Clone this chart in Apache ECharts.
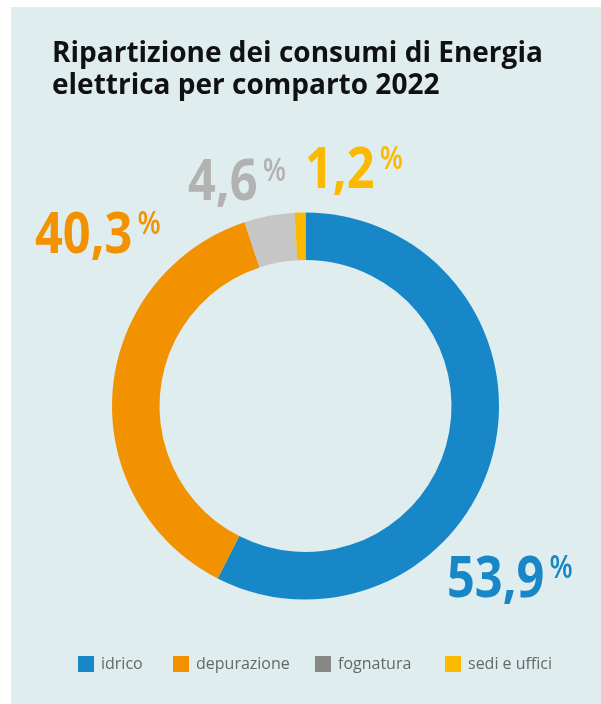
<!DOCTYPE html>
<html><head><meta charset="utf-8">
<style>html,body{margin:0;padding:0;background:#fff}#c{width:601px;height:704px}</style>
<script src="https://cdn.jsdelivr.net/npm/echarts@6/dist/echarts.min.js"></script>
</head><body><div id="c"></div>
<script>
const titleLines = ['Ripartizione dei consumi di Energia', 'elettrica per comparto 2022'];
const categories = ['idrico', 'depurazione', 'fognatura', 'sedi e uffici'];
// printed percentages (labels)
const percentLabels = ['53,9', '40,3', '4,6', '1,2'];
// slice sizes as drawn in the picture (share of the ring, %)
const sliceValues = [57.5, 37.4, 4.2, 0.9];
const sliceColors = ['#1787c8', '#f39200', '#c6c6c6', '#fbba00'];
const legendColors = ['#1787c8', '#f39200', '#878787', '#fbba00'];
const labelColors = ['#1787c8', '#f39200', '#b2b2b2', '#fbba00'];
const labelPos = [[447, 580], [35, 236], [188, 183], [305, 171]];
const legendLefts = [73, 168, 310, 440];

const chart = echarts.init(document.getElementById('c'));

const labelGraphics = categories.map((n, i) => ({
  type: 'text',
  x: labelPos[i][0], y: labelPos[i][1],
  scaleX: 0.84,
  z: 10,
  style: {
    text: '{n|' + percentLabels[i] + '}{p|%}',
    align: 'left', verticalAlign: 'middle',
    rich: {
      n: { fontSize: 58, fontFamily: 'Open Sans', fontWeight: 'bold', fill: labelColors[i], lineHeight: 60 },
      p: { fontSize: 32, fontFamily: 'Open Sans', fontWeight: 600, fill: labelColors[i], verticalAlign: 'top', lineHeight: 32, padding: [3, 0, 0, 6] }
    }
  }
}));

chart.setOption({
  backgroundColor: '#ffffff',
  animation: false,
  graphic: [
    { type: 'rect', left: 11, top: 7, shape: { width: 590, height: 697 }, style: { fill: '#dfedef' }, z: -10 },
    { type: 'text', left: 52, top: 38, style: { text: titleLines.join('\n'), font: 'bold 28px "Open Sans"', fill: '#111', lineHeight: 32 } }
  ].concat(labelGraphics),
  legend: categories.map((n, i) => ({
    left: legendLefts[i], top: 651,
    itemWidth: 16, itemHeight: 16,
    icon: 'rect',
    selectedMode: false,
    textStyle: { color: '#666', fontSize: 16, fontFamily: 'Open Sans', padding: [0, 0, 0, 2] },
    data: [{ name: n, itemStyle: { color: legendColors[i] } }]
  })),
  series: [{
    type: 'pie',
    center: [305.5, 406],
    radius: [146, 193.5],
    startAngle: 90,
    clockwise: true,
    label: { show: false },
    labelLine: { show: false },
    data: categories.map((n, i) => ({
      name: n, value: sliceValues[i],
      itemStyle: { color: sliceColors[i] }
    })),
    emphasis: { disabled: true }
  }]
});
</script></body></html>
